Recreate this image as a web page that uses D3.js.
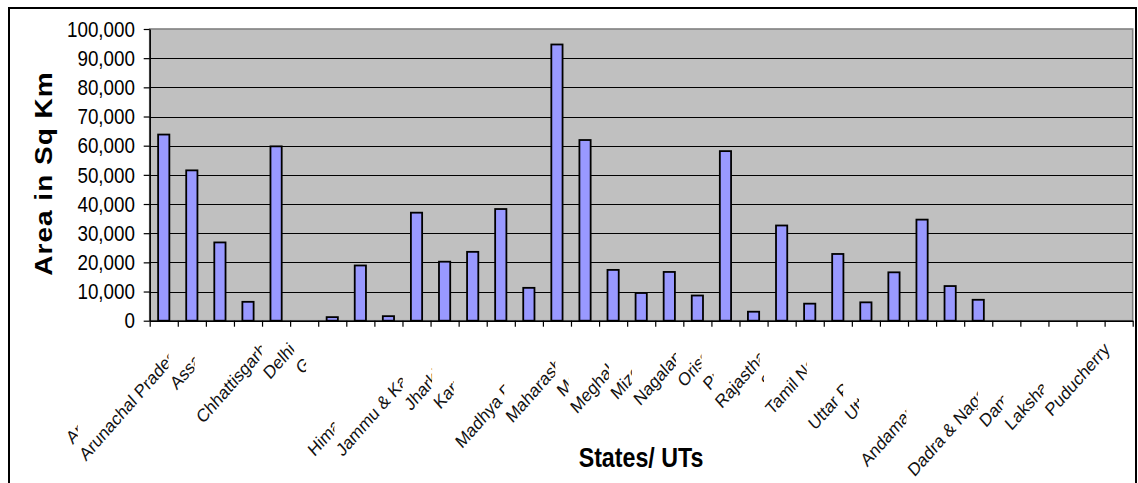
<!DOCTYPE html>
<html>
<head>
<meta charset="utf-8">
<script src="https://cdn.jsdelivr.net/npm/d3@7"></script>
<style>
  html, body { margin: 0; padding: 0; background: #fff; }
  svg { display: block; }
  text { font-family: "Liberation Sans", Arial, sans-serif; }
</style>
</head>
<body>
<svg id="chart" width="1138" height="483"></svg>
<script>
// States and Union Territories, in report order
const categories = [
  "Andhra Pradesh", "Arunachal Pradesh", "Assam", "Bihar", "Chhattisgarh",
  "Delhi", "Goa", "Gujarat", "Haryana", "Himachal Pradesh",
  "Jammu & Kashmir", "Jharkhand", "Karnataka", "Kerala", "Madhya Pradesh",
  "Maharashtra", "Manipur", "Meghalaya", "Mizoram", "Nagaland",
  "Orissa", "Punjab", "Rajasthan", "Sikkim", "Tamil Nadu",
  "Tripura", "Uttar Pradesh", "Uttarakhand", "West Bengal", "Andaman & Nicobar",
  "Chandigarh", "Dadra & Nagar Haveli", "Daman & Diu", "Lakshadweep", "Puducherry"
];

// Recorded forest area, sq km
const forestArea = [
  63814, 51540, 26832, 6473, 59772,
  85, 1224, 18927, 1559, 37033,
  20230, 23605, 38284, 11265, 94689,
  61939, 17418, 9496, 16717, 8629,
  58136, 3084, 32639, 5841, 22877,
  6294, 16583, 34651, 11879, 7171,
  35, 204, 0, 0, 0
];

const yTicks = [0, 10000, 20000, 30000, 40000, 50000, 60000, 70000, 80000, 90000, 100000];
const yTitle = "Area in Sq Km";
const xTitle = "States/ UTs";

const svg = d3.select("#chart");
const W = 1138, H = 483;
const sx = 0.88;                       // horizontal squeeze of the whole drawing
const plot = { left: 149.7, right: 1132.7, top: 29, bottom: 320.7 };

// outer chart frame
svg.append("rect")
  .attr("x", 9).attr("y", 8).attr("width", 1127).attr("height", 490)
  .attr("fill", "#fff").attr("stroke", "#000").attr("stroke-width", 2);

const x = d3.scaleBand()
  .domain(categories)
  .range([plot.left, plot.right])
  .paddingInner(0.6)
  .paddingOuter(0.3);

const y = d3.scaleLinear()
  .domain([0, 100000])
  .range([plot.bottom, plot.top]);

// category boundaries for tick marks
const xEdges = d3.scaleLinear()
  .domain([0, categories.length])
  .range([plot.left, plot.right]);

// plot area
svg.append("rect")
  .attr("x", plot.left).attr("y", plot.top)
  .attr("width", plot.right - plot.left).attr("height", plot.bottom - plot.top)
  .attr("fill", "#c0c0c0").attr("stroke", "#808080").attr("stroke-width", 1.6);

// horizontal gridlines
svg.append("g")
  .selectAll("line")
  .data(yTicks.filter(d => d > 0 && d < 100000))
  .join("line")
  .attr("x1", plot.left).attr("x2", plot.right)
  .attr("y1", d => Math.round(y(d)) + 0.5).attr("y2", d => Math.round(y(d)) + 0.5)
  .attr("stroke", "#000").attr("stroke-width", 1);

// bars
svg.append("g")
  .selectAll("rect")
  .data(categories.map((c, i) => ({ c, v: forestArea[i] })).filter(d => y(0) - y(d.v) >= 1))
  .join("rect")
  .attr("x", d => x(d.c))
  .attr("y", d => y(d.v))
  .attr("width", x.bandwidth())
  .attr("height", d => y(0) - y(d.v))
  .attr("fill", "#9999ff")
  .attr("stroke", "#000")
  .attr("stroke-width", 1.8);

// x axis: line and tick marks between categories
const xAxis = svg.append("g")
  .attr("transform", `translate(0,${plot.bottom})`)
  .call(d3.axisBottom(xEdges)
    .tickValues(d3.range(categories.length + 1))
    .tickFormat("")
    .tickSize(6)
    .tickSizeOuter(0));
xAxis.select(".domain").attr("stroke", "#000").attr("stroke-width", 1.5);
xAxis.selectAll(".tick line").attr("stroke", "#000").attr("stroke-width", 1.2);

// y axis: line and tick marks
const yAxis = svg.append("g")
  .attr("transform", `translate(${plot.left},0)`)
  .call(d3.axisLeft(y)
    .tickValues(yTicks)
    .tickFormat("")
    .tickSize(6)
    .tickSizeOuter(0));
yAxis.select(".domain").attr("stroke", "#000").attr("stroke-width", 1.5);
yAxis.selectAll(".tick line").attr("stroke", "#000").attr("stroke-width", 1.2);

// y tick labels
const fmt = d3.format(",");
svg.append("g")
  .selectAll("text")
  .data(yTicks)
  .join("text")
  .attr("transform", d => `translate(135,${y(d)}) scale(${sx},1)`)
  .attr("text-anchor", "end")
  .attr("dy", "0.36em")
  .attr("font-size", 21.4)
  .attr("fill", "#000")
  .text(d => fmt(d));

// rotated category labels; each one sits on a white box that hides
// whatever part of the previous labels falls underneath it
const labelSize = 18.5;
const labelLayer = svg.append("g");
const ang = Math.PI / 4;
const toScreen = (px, py) => [
  sx * (px * Math.cos(ang) + py * Math.sin(ang)),
  (-px * Math.sin(ang) + py * Math.cos(ang))
];
categories.forEach((name, i) => {
  const ex = x(name) + x.bandwidth() / 2 - 8;
  const ey = 350.5;
  const t = labelLayer.append("text")
    .attr("transform", `translate(${ex},${ey}) scale(${sx},1) rotate(-45)`)
    .attr("text-anchor", "end")
    .attr("font-size", labelSize)
    .attr("fill", "#111")
    .text(name);
  const L = t.node().getComputedTextLength();
  const asc = 0.72 * labelSize, desc = 0.22 * labelSize;
  const pts = [[-L, -asc], [0, -asc], [0, desc], [-L, desc]].map(p => toScreen(p[0], p[1]));
  const xs = pts.map(p => p[0] + ex), ys = pts.map(p => p[1] + ey);
  labelLayer.insert("rect", () => t.node())
    .attr("x", d3.min(xs)).attr("y", d3.min(ys))
    .attr("width", d3.max(xs) - d3.min(xs))
    .attr("height", d3.max(ys) - d3.min(ys))
    .attr("fill", "#fff");
});

// axis titles
svg.append("text")
  .attr("transform", `translate(52,173.5) scale(${sx},1) rotate(-90)`)
  .attr("text-anchor", "middle")
  .attr("font-size", 28)
  .attr("font-weight", "bold")
  .attr("letter-spacing", 1)
  .attr("fill", "#000")
  .text(yTitle);

svg.append("text")
  .attr("transform", `translate(641,467) scale(0.86,1)`)
  .attr("text-anchor", "middle")
  .attr("font-size", 27)
  .attr("font-weight", "bold")
  .attr("fill", "#000")
  .text(xTitle);
</script>
</body>
</html>
